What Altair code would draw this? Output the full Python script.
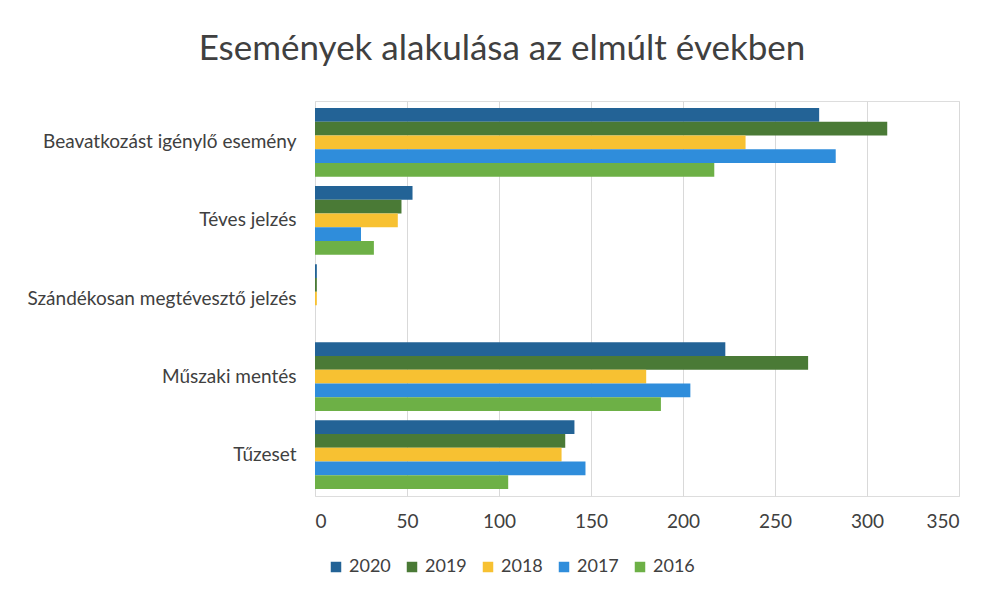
import altair as alt
import pandas as pd

categories = ["Beavatkozást igénylő esemény", "Téves jelzés", "Szándékosan megtévesztő jelzés", "Műszaki mentés", "Tűzeset"]
years = ["2020", "2019", "2018", "2017", "2016"]
v2020 = [274, 53, 1, 223, 141]
v2019 = [311, 47, 1, 268, 136]
v2018 = [234, 45, 1, 180, 134]
v2017 = [283, 25, 0, 204, 147]
v2016 = [217, 32, 0, 188, 105]
colors = ["#236396", "#4A7A36", "#F7C132", "#2F8DDB", "#6DB046"]

series = {"2020": v2020, "2019": v2019, "2018": v2018, "2017": v2017, "2016": v2016}
rows = []
for y, vals in series.items():
    for c, v in zip(categories, vals):
        rows.append({"cat": c, "year": y, "value": v})
df = pd.DataFrame(rows)

chart = alt.Chart(df).mark_bar().encode(
    y=alt.Y("cat:N", sort=categories, title=None,
            scale=alt.Scale(paddingInner=0.12, paddingOuter=0.09),
            axis=alt.Axis(labelFontSize=19, labelColor="#404040", labelFont="Lato",
                          ticks=False, domain=False, labelPadding=19, labelLimit=400)),
    yOffset=alt.YOffset("year:N", sort=years, scale=alt.Scale(paddingInner=0, paddingOuter=0)),
    x=alt.X("value:Q", title=None,
            scale=alt.Scale(domain=[0, 350], nice=False),
            axis=alt.Axis(values=[0, 50, 100, 150, 200, 250, 300, 350], labelFontSize=19,
                          labelColor="#404040", labelFont="Lato", ticks=False, domain=False,
                          gridColor="#D9D9D9", labelPadding=16)),
    color=alt.Color("year:N", sort=years,
                    scale=alt.Scale(domain=years, range=colors),
                    legend=alt.Legend(orient="none", legendX=12, legendY=457,
                                      direction="horizontal", title=None,
                                      symbolType="square", symbolSize=110, symbolStrokeWidth=0,
                                      labelFontSize=18, labelColor="#404040", labelFont="Lato",
                                      columnPadding=12)),
).properties(
    width=644,
    height=395,
    padding={"left": 19, "top": 24, "right": 5, "bottom": 5},
    title=alt.TitleParams("Események alakulása az elmúlt években", fontSize=35,
                          font="Lato", fontWeight="normal", color="#404040", offset=27,
                          dx=9, dy=-7, anchor="middle", frame="bounds"),
).configure_view(stroke=None).configure(background="white")

chart.save("out.html", embed_options={"renderer": "svg", "actions": False})
